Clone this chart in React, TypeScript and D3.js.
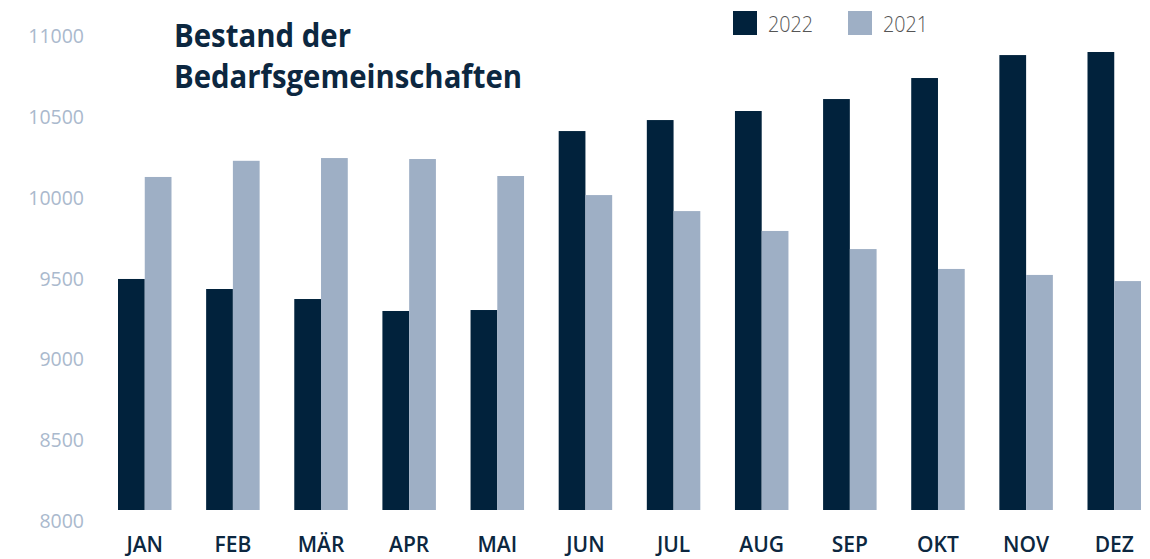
import React from "react";
import * as d3 from "d3";

const months = ["JAN", "FEB", "MÄR", "APR", "MAI", "JUN", "JUL", "AUG", "SEP", "OKT", "NOV", "DEZ"];
const values2022 = [9429, 9367, 9305, 9231, 9237, 10344, 10412, 10468, 10542, 10672, 10814, 10833];
const values2021 = [10060, 10160, 10177, 10171, 10066, 9948, 9849, 9726, 9614, 9491, 9454, 9416];
const series = ["2022", "2021"];
const yTicks = [8000, 8500, 9000, 9500, 10000, 10500, 11000];
const titleLines = ["Bestand der", "Bedarfsgemeinschaften"];

const W = 1150;
const H = 559;
const DARK = "#01223c";
const LIGHT = "#9eafc5";
const colors: Record<string, string> = { "2022": DARK, "2021": LIGHT };

export default function App() {
  const y = d3.scaleLinear().domain([8000, 11000]).range([510, 25]);
  const x = d3.scaleBand<string>().domain(months).range([118, 1141]).paddingInner(0.393).paddingOuter(0);
  const inner = d3.scaleBand<string>().domain(series).range([0, x.bandwidth()]);
  const data = months.map((m, i) => ({ m, "2022": values2022[i], "2021": values2021[i] }));

  return (
    <svg width={W} height={H} style={{ position: "absolute", left: 0, top: 0, background: "#fff" }}>
      {/* y tick labels */}
      {yTicks.map((t) => (
        <text key={t} x={84} y={y(t) + 18} textAnchor="end" fontFamily="'Open Sans', sans-serif" fontSize={19.5} fill="#aab9cd">
          {t}
        </text>
      ))}
      {/* bars */}
      {data.map((d) => (
        <g key={d.m} transform={`translate(${x(d.m)},0)`}>
          {series.map((s) => (
            <rect
              key={s}
              x={inner(s)}
              y={y((d as any)[s])}
              width={inner.bandwidth()}
              height={y(8000) - y((d as any)[s])}
              fill={colors[s]}
            />
          ))}
        </g>
      ))}
      {/* x labels */}
      {months.map((m) => (
        <text
          key={m}
          x={(x(m) as number) + x.bandwidth() / 2}
          y={552}
          textAnchor="middle"
          fontFamily="'Open Sans', sans-serif"
          fontWeight={600}
          fontSize={21}
          fill="#0c2740"
        >
          {m}
        </text>
      ))}
      {/* title */}
      <text x={174} y={47} fontFamily="'Open Sans', sans-serif" fontWeight={700} fontSize={32} fill="#0c2740" textLength={177} lengthAdjust="spacingAndGlyphs">
        {titleLines[0]}
      </text>
      <text x={174} y={88} fontFamily="'Open Sans', sans-serif" fontWeight={700} fontSize={32} fill="#0c2740" textLength={348} lengthAdjust="spacingAndGlyphs">
        {titleLines[1]}
      </text>
      {/* legend */}
      {series.map((s, i) => (
        <g key={s} transform={`translate(${733 + i * 115},11)`}>
          <rect width={24} height={24} fill={colors[s]} />
          <text x={35} y={21} fontFamily="'Open Sans', sans-serif" fontWeight={300} fontSize={22} fill="#555" textLength={45} lengthAdjust="spacingAndGlyphs">
            {s}
          </text>
        </g>
      ))}
    </svg>
  );
}
